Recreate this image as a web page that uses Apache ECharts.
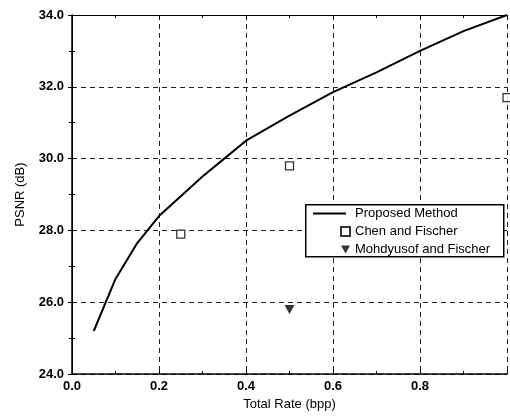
<!DOCTYPE html>
<html>
<head>
<meta charset="utf-8">
<script src="https://cdn.jsdelivr.net/npm/echarts@6/dist/echarts.min.js"></script>
<style>
html,body{margin:0;padding:0;background:#fff;}
#chart{width:510px;height:416px;}
</style>
</head>
<body>
<div id="chart"></div>
<script>
// Data
const proposedRate = [0.05, 0.10, 0.15, 0.20, 0.25, 0.30, 0.35, 0.40, 0.50, 0.60, 0.70, 0.80, 0.90, 1.00];
const proposedPSNR = [25.2, 26.65, 27.65, 28.4, 28.95, 29.5, 30.0, 30.5, 31.2, 31.85, 32.4, 33.0, 33.55, 34.0];
const chenRate = [0.25, 0.50, 1.00];
const chenPSNR = [27.9, 29.8, 31.7];
const mohdRate = [0.50];
const mohdPSNR = [25.8];
const seriesNames = ['Proposed Method', 'Chen and Fischer', 'Mohdyusof and Fischer'];
const xTicks = [0.0, 0.2, 0.4, 0.6, 0.8];
const yTicks = [24.0, 26.0, 28.0, 30.0, 32.0, 34.0];

const font = 'Liberation Sans, Arial, Helvetica, sans-serif';
const zip = (a, b) => a.map((v, i) => [v, b[i]]);

const chart = echarts.init(document.getElementById('chart'), null, {renderer: 'canvas'});
const dashed = {type: [5, 4], color: '#222', width: 1};

chart.setOption({
  animation: false,
  backgroundColor: '#fff',
  grid: {left: 72, top: 15, right: 1, bottom: 40, containLabel: false},
  xAxis: [{
    type: 'value', min: 0, max: 1, interval: 0.2,
    name: 'Total Rate (bpp)', nameLocation: 'middle', nameGap: 20,
    nameTextStyle: {fontFamily: font, fontSize: 13, color: '#000'},
    axisLine: {show: true, onZero: false, lineStyle: {color: '#000', width: 1.5}},
    axisTick: {show: true, inside: true, length: 4, lineStyle: {color: '#000'}},
    minorTick: {show: true, splitNumber: 2, length: 3, lineStyle: {color: '#000'}},
    axisLabel: {
      margin: 6, fontFamily: font, fontSize: 13, fontWeight: 'bold', color: '#000',
      formatter: v => (xTicks.some(t => Math.abs(t - v) < 1e-9) ? v.toFixed(1) : '')
    },
    splitLine: {show: true, lineStyle: dashed}
  }, {
    type: 'value', min: 0, max: 1, interval: 0.2, position: 'top',
    axisLine: {show: true, lineStyle: {color: '#000', width: 1}},
    axisTick: {show: true, inside: true, length: 4, lineStyle: {color: '#000'}},
    minorTick: {show: true, splitNumber: 2, length: 3, lineStyle: {color: '#000'}},
    axisLabel: {show: false}, splitLine: {show: false}
  }],
  yAxis: [{
    type: 'value', min: 24, max: 34, interval: 2,
    name: 'PSNR (dB)', nameLocation: 'middle', nameGap: 45, nameRotate: 90,
    nameTextStyle: {fontFamily: font, fontSize: 13, color: '#000'},
    axisLine: {show: true, onZero: false, lineStyle: {color: '#000', width: 1.5}},
    axisTick: {show: true, inside: true, length: 4, lineStyle: {color: '#000'}},
    minorTick: {show: true, splitNumber: 2, length: 3, lineStyle: {color: '#000'}},
    axisLabel: {
      margin: 8, fontFamily: font, fontSize: 13, fontWeight: 'bold', color: '#000',
      formatter: v => (yTicks.some(t => Math.abs(t - v) < 1e-9) ? v.toFixed(1) : '')
    },
    splitLine: {show: true, lineStyle: dashed}
  }, {
    type: 'value', min: 24, max: 34, interval: 2, position: 'right',
    axisLine: {show: true, lineStyle: {color: '#000', width: 1}},
    axisTick: {show: true, inside: true, length: 4, lineStyle: {color: '#000'}},
    minorTick: {show: true, splitNumber: 2, length: 3, lineStyle: {color: '#000'}},
    axisLabel: {show: false}, splitLine: {show: false}
  }],
  legend: [{
    data: [{name: seriesNames[0], icon: 'path://M0,0 L33,0 L33,2 L0,2 Z'}],
    left: 313, top: 207, orient: 'vertical', z: 10,
    itemWidth: 33, itemHeight: 2, itemGap: 4, padding: 0,
    itemStyle: {color: '#000'},
    textStyle: {fontFamily: font, fontSize: 13, color: '#000', padding: [0, 0, 0, 4]}
  }, {
    data: [
      {name: seriesNames[1]},
      {name: seriesNames[2], icon: 'path://M0,0 L10,0 L5,9 Z'}
    ],
    left: 340, top: 225, orient: 'vertical', z: 10,
    itemWidth: 9, itemHeight: 9, itemGap: 5, padding: 0,
    textStyle: {fontFamily: font, fontSize: 13, color: '#000', padding: [0, 0, 0, 0]}
  }],
  graphic: [{
    type: 'rect', left: 305, top: 204, z: 5,
    shape: {width: 198, height: 52},
    style: {fill: '#fff', stroke: '#000', lineWidth: 1.5}
  }],
  series: [{
    name: seriesNames[0], type: 'line', data: zip(proposedRate, proposedPSNR),
    showSymbol: false, symbol: 'none',
    lineStyle: {color: '#000', width: 2}, itemStyle: {color: '#000'}
  }, {
    name: seriesNames[1], type: 'scatter', data: zip(chenRate, chenPSNR),
    symbol: 'rect', symbolSize: 8, clip: false,
    itemStyle: {color: '#fff', borderColor: '#000', borderWidth: 1.3}
  }, {
    name: seriesNames[2], type: 'scatter', data: zip(mohdRate, mohdPSNR),
    symbol: 'triangle', symbolSize: [10, 9], symbolRotate: 180, clip: false,
    itemStyle: {color: '#000'}
  }]
});
</script>
</body>
</html>
